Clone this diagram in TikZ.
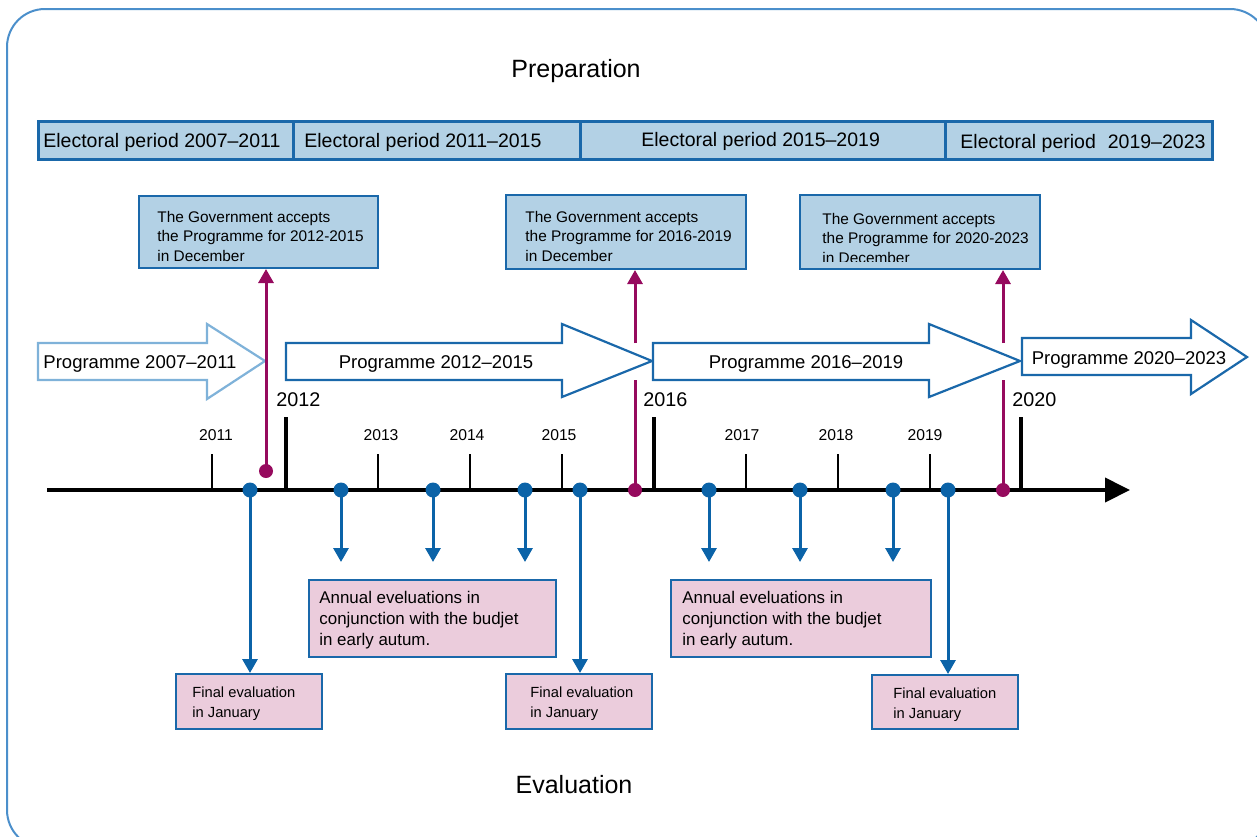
\documentclass[tikz,border=0pt]{standalone}
\usepackage{fontspec}
\setmainfont{Liberation Sans}
\usetikzlibrary{arrows.meta,calc}
\definecolor{dblue}{HTML}{1A68AA}
\definecolor{lblue}{HTML}{B3D1E5}
\definecolor{pblue}{HTML}{7FB2D9}
\definecolor{fblue}{HTML}{4B8FCB}
\definecolor{mag}{HTML}{960A5E}
\definecolor{pinkbox}{HTML}{EBCCDC}
\definecolor{dotblue}{HTML}{0B63A8}
\begin{document}
\begin{tikzpicture}[x=0.5pt,y=-0.5pt,
  ep/.style={draw=dblue,fill=lblue,line width=1.5pt,minimum height=19pt,inner sep=0pt},
  eptext/.style={font=\fontsize{9.75}{11}\selectfont,inner sep=0pt,anchor=west},
  gov/.style={draw=dblue,fill=lblue,line width=1pt,inner sep=0pt,minimum width=120pt,minimum height=37pt},
  govtext/.style={font=\fontsize{7.7}{9.75}\selectfont,align=left,inner sep=0pt,anchor=west},
  prog/.style={fill=white,line width=1.1pt,line join=miter},
  progtext/.style={font=\fontsize{9.25}{11}\selectfont,inner sep=0pt},
  evbox/.style={draw=dblue,fill=pinkbox,line width=1pt,inner sep=0pt},
  annualtext/.style={font=\fontsize{8.45}{10.5}\selectfont,align=left,inner sep=0pt,anchor=west},
  finaltext/.style={font=\fontsize{7.35}{10}\selectfont,align=left,inner sep=0pt,anchor=west},
  minortick/.style={line width=1pt},
  majortick/.style={line width=2pt},
  smallyear/.style={font=\fontsize{7.85}{9}\selectfont,inner sep=0pt},
  bigyear/.style={font=\fontsize{9.9}{11}\selectfont,inner sep=0pt,anchor=west},
  bdot/.style={circle,fill=dotblue,inner sep=0pt,minimum size=7.5pt},
  mdot/.style={circle,fill=mag,inner sep=0pt,minimum size=7pt},
  barrow/.style={draw=dotblue,line width=1.5pt,-{Triangle[length=7pt,width=7.5pt]}},
  marrow/.style={draw=mag,line width=1.5pt,-{Triangle[length=7pt,width=7.5pt]}},
  mline/.style={draw=mag,line width=1.5pt},
  heading/.style={font=\fontsize{12.5}{14}\selectfont,inner sep=0pt}
]
\useasboundingbox (0,0) rectangle (1257,836);
% outer frame
\draw[fblue,line width=1pt,rounded corners=19pt] (7,9) rectangle (1268,848);

% headings
\node[heading] (prep) at (576,71) {Preparation};
\node[heading] (evalh) at (574,785) {Evaluation};

% electoral periods
\node[ep,minimum width=127.5pt] (ep1) at (165.5,140) {};
\node[ep,minimum width=143.5pt] (ep2) at (436.5,140) {};
\node[ep,minimum width=182.5pt] (ep3) at (762.5,140) {};
\node[ep,minimum width=133.5pt] (ep4) at (1078.5,140) {};
\node[eptext] (ep1t) at (43,142) {Electoral period 2007--2011};
\node[eptext] (ep2t) at (304,142) {Electoral period 2011--2015};
\node[eptext] (ep3t) at (641,141) {Electoral period 2015--2019};
\node[eptext] (ep4t) at (960,143) {Electoral period\hspace{6pt}2019--2023};

% government boxes
\node[gov,minimum width=119.5pt,minimum height=36pt] (gov1) at (258.5,232) {};
\node[govtext] (g1t) at (157,236) {The Government accepts\\the Programme for 2012-2015\\in December};
\node[gov] (gov2) at (626,232) {};
\node[govtext] (g2t) at (525,236) {The Government accepts\\the Programme for 2016-2019\\in December};
\node[gov] (gov3) at (920,232) {};
\begin{scope}
  \clip (800,195) rectangle (1040,261);
  \node[govtext] (g3t) at (822,238) {The Government accepts\\the Programme for 2020-2023\\in December};
\end{scope}

% programme arrows
\draw[prog,draw=pblue] (38,343) -- (207,343) -- (207,324) -- (265,361) -- (207,399) -- (207,380) -- (38,380) -- cycle;
\draw[prog,draw=dblue] (286,343) -- (562,343) -- (562,324) -- (652,361) -- (562,397) -- (562,380) -- (286,380) -- cycle;
\draw[prog,draw=dblue] (653,343) -- (929,343) -- (929,324) -- (1020,361) -- (929,397) -- (929,380) -- (653,380) -- cycle;
\draw[prog,draw=dblue] (1022,338) -- (1191,338) -- (1191,320) -- (1247,357) -- (1191,394) -- (1191,375) -- (1022,375) -- cycle;
\node[progtext] (p1t) at (140,364) {Programme 2007--2011};
\node[progtext] (p2t) at (436,364) {Programme 2012--2015};
\node[progtext] (p3t) at (806,364) {Programme 2016--2019};
\node[progtext] (p4t) at (1129,360) {Programme 2020--2023};

% axis
\coordinate (axstart) at (47,490);
\coordinate (axend) at (1130,490);
\draw[line width=2pt,-{Triangle[length=12.5pt,width=12pt]}] (axstart) -- (axend);

% minor ticks and labels
\foreach \tx/\lx/\yr in {212/216/2011,378/381/2013,470/467/2014,562/559/2015,746/742/2017,838/836/2018,930/925/2019}{
  \draw[minortick] (\tx,454) -- (\tx,490);
  \node[smallyear] (y\yr) at (\lx,435) {\yr};
}
% major ticks and labels
\foreach \tx/\lx/\yr in {286/276/2012,654/643/2016,1021/1012/2020}{
  \draw[majortick] (\tx,417) -- (\tx,490);
  \node[bigyear] (y\yr) at (\lx,400) {\yr};
}

% magenta connectors
\node[mdot] (m1) at (266,471) {};
\node[mdot] (m2) at (635,490) {};
\node[mdot] (m3) at (1003,490) {};
\draw[marrow] (m1.center) -- (m1 |- gov1.south);
\coordinate (m2a) at (635,380);
\coordinate (m2b) at (635,343);
\draw[mline] (m2.center) -- (m2a);
\draw[marrow] (m2b) -- (m2b |- gov2.south);
\coordinate (m3a) at (1003,380);
\coordinate (m3b) at (1003,343);
\draw[mline] (m3.center) -- (m3a);
\draw[marrow] (m3b) -- (m3b |- gov3.south);

% evaluation boxes
\node[evbox,minimum width=123.5pt,minimum height=38.5pt] (an1) at (432.5,618.5) {};
\node[evbox,minimum width=130pt,minimum height=38.5pt] (an2) at (801,618.5) {};
\node[annualtext] (an1t) at (319,620) {Annual eveluations in\\conjunction with the budjet\\in early autum.};
\node[annualtext] (an2t) at (682,620) {Annual eveluations in\\conjunction with the budjet\\in early autum.};
\node[evbox,minimum width=73pt,minimum height=27.5pt] (fin1) at (249,701.5) {};
\node[evbox,minimum width=73pt,minimum height=27.5pt] (fin2) at (579,701.5) {};
\node[evbox,minimum width=73pt,minimum height=27pt] (fin3) at (945,702) {};
\node[finaltext] (f1t) at (192,704) {Final evaluation\\in January};
\node[finaltext] (f2t) at (530,704) {Final evaluation\\in January};
\node[finaltext] (f3t) at (893,705) {Final evaluation\\in January};

% blue dots and arrows
\node[bdot] (d1) at (250,490) {};
\node[bdot] (d2) at (341,490) {};
\node[bdot] (d3) at (433,490) {};
\node[bdot] (d4) at (525,490) {};
\node[bdot] (d5) at (580,490) {};
\node[bdot] (d6) at (709,490) {};
\node[bdot] (d7) at (800,490) {};
\node[bdot] (d8) at (893,490) {};
\node[bdot] (d9) at (948,490) {};
\draw[barrow] (d1.center) -- (d1 |- fin1.north);
\draw[barrow] (d5.center) -- (d5 |- fin2.north);
\draw[barrow] (d9.center) -- (d9 |- fin3.north);
\foreach \d in {d2,d3,d4}{
  \draw[barrow,shorten >=8.5pt] (\d.center) -- (\d |- an1.north);
}
\foreach \d in {d6,d7,d8}{
  \draw[barrow,shorten >=8.5pt] (\d.center) -- (\d |- an2.north);
}
\end{tikzpicture}
\end{document}
